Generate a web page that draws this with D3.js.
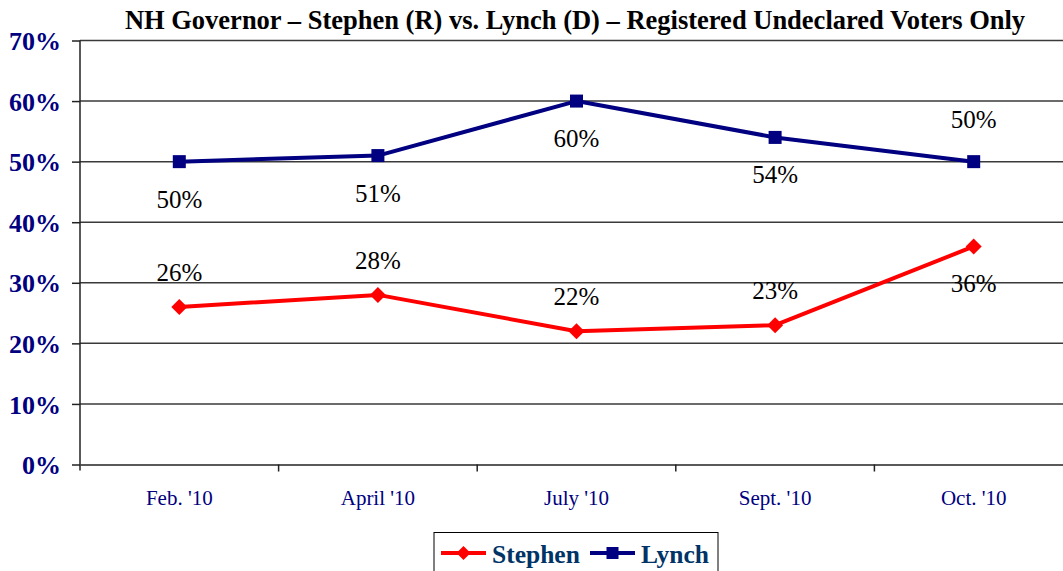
<!DOCTYPE html>
<html><head><meta charset="utf-8">
<script src="https://cdn.jsdelivr.net/npm/d3@7"></script>
<style>body{margin:0;background:#fff}svg{display:block}text{font-family:"Liberation Serif","Tinos","DejaVu Serif",serif}</style>
</head><body>
<svg id="c" width="1063" height="571"></svg>
<script>
const categories = ["Feb. '10", "April '10", "July '10", "Sept. '10", "Oct. '10"];
const stephen = [26, 28, 22, 23, 36];
const lynch = [50, 51, 60, 54, 50];
const yTicks = [0, 10, 20, 30, 40, 50, 60, 70];
const stephenLabelPos = ["above", "above", "above", "above", "below"];
const lynchLabelPos = ["below", "below", "below", "below", "above"];

const svg = d3.select("#c");
const L = 80, R = 1073, T = 40.5, B = 464.5;
const x = d3.scaleBand().domain(categories).range([L, R]);
const y = d3.scaleLinear().domain([0, 70]).range([B, T]);
const cx = d => x(d) + x.bandwidth() / 2;

svg.append("text").attr("x", 575).attr("y", 29).attr("text-anchor", "middle")
  .attr("font-weight", "bold")
  .attr("font-size", 26.5).attr("fill", "#000")
  .text("NH Governor \u2013 Stephen (R) vs. Lynch (D) \u2013 Registered Undeclared Voters Only");

// gridlines
svg.append("g").selectAll("line").data(yTicks.filter(v => v > 0)).join("line")
  .attr("x1", L).attr("x2", R).attr("y1", d => y(d)).attr("y2", d => y(d))
  .attr("stroke", "#3a3a3a").attr("stroke-width", 1.5);

// y axis
const ya = svg.append("g").attr("transform", `translate(${L},0)`)
  .call(d3.axisLeft(y).tickValues(yTicks).tickSize(8).tickFormat(d => d + "%").tickPadding(11));
ya.select(".domain").attr("stroke", "#222").attr("stroke-width", 1.5).attr("d", `M0,${T}V${B + 6}`);
ya.selectAll(".tick line").attr("stroke", "#222").attr("stroke-width", 1.5);
ya.selectAll(".tick text").attr("font-family", null)
  .attr("font-weight", "bold").attr("font-size", 26).attr("fill", "#000080").attr("dy", "0.35em");

// x axis
const xa = svg.append("g").attr("transform", `translate(0,${B})`)
  .call(d3.axisBottom(x).tickSize(0).tickPadding(25.5));
xa.select(".domain").attr("stroke", "#222").attr("stroke-width", 1.5);
xa.selectAll(".tick text").attr("font-family", null)
  .attr("font-size", 21).attr("fill", "#000080");
svg.append("g").selectAll("line").data(categories.slice(1)).join("line")
  .attr("x1", d => x(d)).attr("x2", d => x(d)).attr("y1", B).attr("y2", B + 7)
  .attr("stroke", "#222").attr("stroke-width", 1.5);

const line = d3.line().x((d, i) => cx(categories[i])).y(d => y(d));

function series(vals, color, marker, pos, aboveOff) {
  svg.append("path").datum(vals).attr("d", line).attr("fill", "none")
    .attr("stroke", color).attr("stroke-width", 4).attr("stroke-linejoin", "round");
  const g = svg.append("g");
  if (marker === "square") {
    g.selectAll("rect").data(vals).join("rect")
      .attr("x", (d, i) => cx(categories[i]) - 6.5).attr("y", d => y(d) - 6.5)
      .attr("width", 13).attr("height", 13).attr("fill", color);
  } else {
    g.selectAll("path").data(vals).join("path")
      .attr("transform", (d, i) => `translate(${cx(categories[i])},${y(d)})`)
      .attr("d", "M0,-8L8,0L0,8L-8,0Z").attr("fill", color);
  }
  svg.append("g").selectAll("text").data(vals).join("text")
    .attr("x", (d, i) => cx(categories[i]))
    .attr("y", (d, i) => y(d) + (pos[i] === "above" ? aboveOff : 46))
    .attr("text-anchor", "middle")
    .attr("font-size", 25).attr("fill", "#000").text(d => d + "%");
}
series(stephen, "#ff0000", "diamond", stephenLabelPos, -26);
series(lynch, "#000080", "square", lynchLabelPos, -34);

// legend
const lg = svg.append("g");
lg.append("rect").attr("x", 434).attr("y", 532.5).attr("width", 284).attr("height", 50)
  .attr("fill", "#fff").attr("stroke", "#000").attr("stroke-width", 1);
const items = [{name: "Stephen", color: "#ff0000", m: "diamond", x: 441},
               {name: "Lynch", color: "#000080", m: "square", x: 590}];
items.forEach(it => {
  lg.append("line").attr("x1", it.x).attr("x2", it.x + 45).attr("y1", 553).attr("y2", 553)
    .attr("stroke", it.color).attr("stroke-width", 4);
  if (it.m === "square") lg.append("rect").attr("x", it.x + 22.5 - 6).attr("y", 547).attr("width", 12).attr("height", 12).attr("fill", it.color);
  else lg.append("path").attr("transform", `translate(${it.x + 22.5},553)`).attr("d", "M0,-7L7,0L0,7L-7,0Z").attr("fill", it.color);
  lg.append("text").attr("x", it.x + 51).attr("y", 563).
    attr("font-weight", "bold").attr("font-size", 25.5).attr("fill", "#003366").text(it.name);
});
</script>
</body></html>
